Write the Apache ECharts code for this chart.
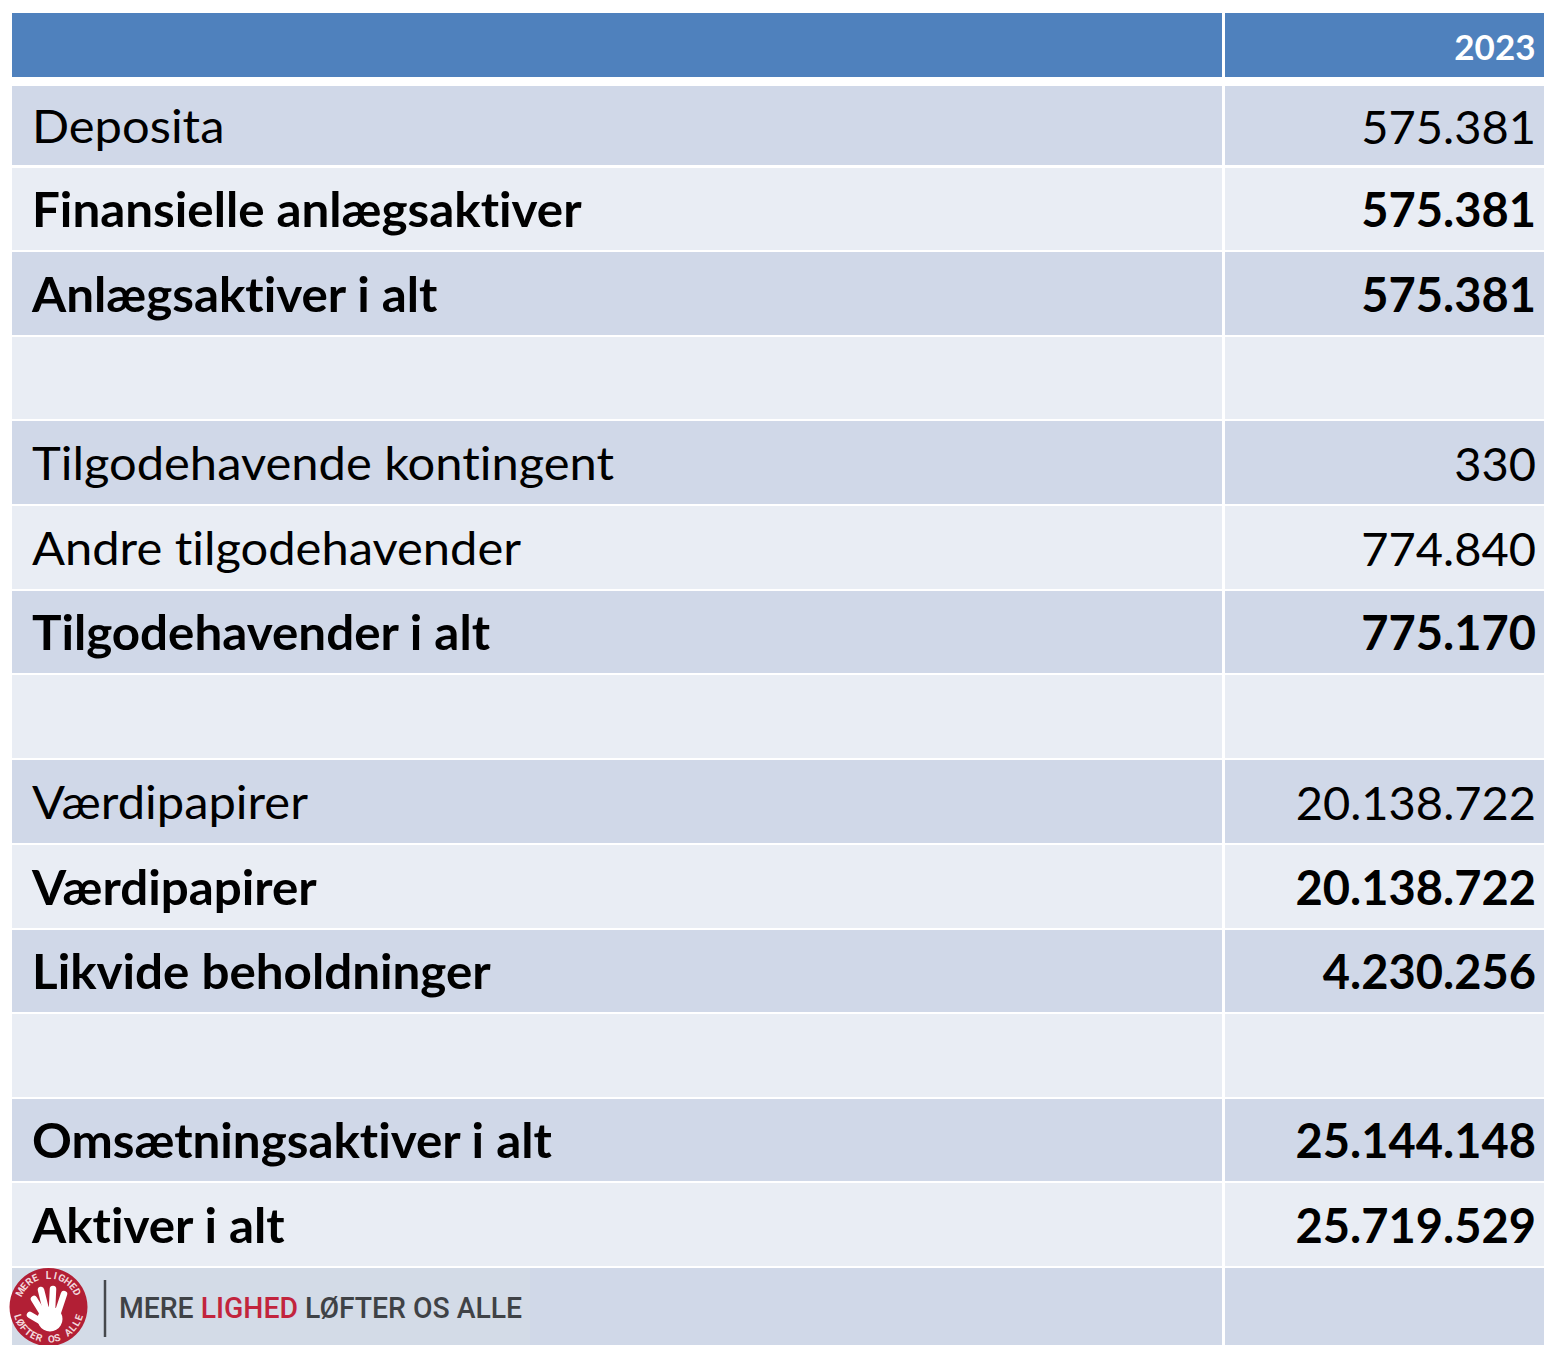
<!DOCTYPE html>
<html>
<head>
<meta charset="utf-8">
<title>Aktiver 2023</title>
<style>
    html, body { margin: 0; padding: 0; background: #fff; }
    #main { width: 1544px; height: 1345px; }
    /* Lato joins "ti", the original does not */
    #main text { font-variant-ligatures: none; }
</style>
<script src="https://cdn.jsdelivr.net/npm/echarts@6/dist/echarts.min.js"></script>
</head>
<body>
<div id="main"></div>
<script>
let headerYear = '2023';
let rowLabels = ['Deposita', 'Finansielle anlægsaktiver', 'Anlægsaktiver i alt', '',
    'Tilgodehavende kontingent', 'Andre tilgodehavender', 'Tilgodehavender i alt', '',
    'Værdipapirer', 'Værdipapirer', 'Likvide beholdninger', '',
    'Omsætningsaktiver i alt', 'Aktiver i alt', ''];
let rowValues = ['575.381', '575.381', '575.381', '',
    '330', '774.840', '775.170', '',
    '20.138.722', '20.138.722', '4.230.256', '',
    '25.144.148', '25.719.529', ''];
let rowBold = [0, 1, 1, 0, 0, 0, 1, 0, 0, 1, 1, 0, 1, 1, 0];

// layout, in page pixels
let rowTops = [86, 168, 252, 337, 421, 506, 591, 675, 760, 845, 930, 1014, 1099, 1183, 1268];
let rowBottoms = [165, 250, 335, 419, 504, 589, 673, 758, 843, 928, 1012, 1097, 1181, 1266, 1345];
let colLeft = [12, 1225];
let colRight = [1222, 1544];
let headerTop = 13, headerBottom = 77;

let FONT = 'Lato';
let HEADER_BLUE = '#4F81BD', ROW_DARK = '#D0D8E8', ROW_LIGHT = '#E9EDF4';

function cellRect(api, col, top, bottom, fill) {
    let p1 = api.coord([colLeft[col], top]);
    let p2 = api.coord([colRight[col], bottom]);
    return {
        type: 'rect',
        shape: {x: p1[0], y: p1[1], width: p2[0] - p1[0], height: p2[1] - p1[1]},
        style: {fill: fill}
    };
}

function cellText(api, x, y, text, bold, align, size, color, stretch) {
    let p = api.coord([x, y]);
    return {
        type: 'text',
        x: p[0],
        y: p[1],
        scaleX: stretch || 1,
        style: {
            text: text,
            fontFamily: FONT,
            fontSize: size,
            fontWeight: bold ? 'bold' : 'normal',
            fill: color,
            align: align,
            verticalAlign: 'middle'
        }
    };
}

function renderRow(params, api) {
    let i = api.value(0);
    let children;
    if (i < 0) {
        // header row
        children = [
            cellRect(api, 0, headerTop, headerBottom, HEADER_BLUE),
            cellRect(api, 1, headerTop, headerBottom, HEADER_BLUE),
            cellText(api, 1535.5, 46, headerYear, true, 'right', 35, '#fff')
        ];
    } else {
        let fill = i % 2 === 0 ? ROW_DARK : ROW_LIGHT;
        let mid = (rowTops[i] + rowBottoms[i]) / 2 - 0.5;
        children = [
            cellRect(api, 0, rowTops[i], rowBottoms[i], fill),
            cellRect(api, 1, rowTops[i], rowBottoms[i], fill),
            cellText(api, 32, mid, rowLabels[i], rowBold[i], 'left', 47, '#000', rowBold[i] ? 1.05 : 1.04),
            cellText(api, 1536, mid + 0.5, rowValues[i], rowBold[i], 'right', 47, '#000')
        ];
    }
    return {type: 'group', children: children};
}

// logo in the bottom row
function buildLogo() {
    let cx = 48.5, cy = 1307, r = 39;
    let els = [
        {type: 'rect', z: 10, shape: {x: 12, y: 1268, width: 518, height: 77}, style: {fill: '#D3DBE7'}},
        {type: 'circle', z: 11, shape: {cx: cx, cy: cy, r: r}, style: {fill: '#B21F35'}},
        {type: 'line', z: 11, shape: {x1: 105, y1: 1280, x2: 105, y2: 1337}, style: {stroke: '#45484c', lineWidth: 2.5}},
        {
            type: 'text', z: 11, x: 119, y: 1307.5,
            scaleX: 0.945,
            style: {
                text: '{a|MERE }{b|LIGHED}{a| LØFTER OS ALLE}',
                verticalAlign: 'middle',
                rich: {
                    a: {fontFamily: 'Roboto', fontSize: 30, fontWeight: 500, fill: '#3F4246'},
                    b: {fontFamily: 'Roboto', fontSize: 30, fontWeight: 500, fill: '#C2243D'}
                }
            }
        }
    ];
    // fingers and thumb of the hand
    let fingers = [[42, 1312, 34, 1299], [46, 1310, 41, 1290], [52, 1310, 53, 1289], [58, 1312, 64, 1294], [42, 1322, 30, 1315]];
    fingers.forEach(function (f) {
        els.push({
            type: 'line',
            z: 12,
            shape: {x1: f[0], y1: f[1], x2: f[2], y2: f[3]},
            style: {stroke: '#fff', lineWidth: 6.5, lineCap: 'round'}
        });
    });
    els.push({type: 'circle', z: 12, shape: {cx: 50, cy: 1319, r: 12.5}, style: {fill: '#fff'}});
    // text around the ring
    let placeArc = function (text, startDeg, stepDeg, bottom) {
        for (let i = 0; i < text.length; i++) {
            let deg = startDeg + i * stepDeg;
            let rad = deg * Math.PI / 180;
            els.push({
                type: 'text',
                z: 12,
                x: cx + 32 * Math.sin(rad),
                y: cy - 32 * Math.cos(rad),
                rotation: bottom ? -(deg - 180) * Math.PI / 180 : -rad,
                style: {
                    text: text[i], fontFamily: 'Roboto', fontSize: 10, fontWeight: 'bold',
                    fill: '#F3D9DD', align: 'center', verticalAlign: 'middle'
                }
            });
        }
    };
    placeArc('MERE LIGHED', -62, 12.4, false);
    placeArc('LØFTER OS ALLE', 252, -11, true);
    return els;
}

let myChart = echarts.init(document.getElementById('main'), null, {renderer: 'svg'});
let rowIndex = [-1].concat(rowLabels.map(function (d, i) { return i; }));

myChart.setOption({
    animation: false,
    backgroundColor: '#fff',
    grid: {left: 0, right: 0, top: 0, bottom: 0},
    xAxis: {type: 'value', min: 0, max: 1544, show: false},
    yAxis: {type: 'value', min: 0, max: 1345, inverse: true, show: false},
    series: [{
        type: 'custom',
        coordinateSystem: 'cartesian2d',
        clip: false,
        silent: true,
        renderItem: renderRow,
        encode: {x: 0, y: 0},
        data: rowIndex.map(function (i) { return [i]; })
    }],
    graphic: {elements: buildLogo()}
});
</script>
</body>
</html>
